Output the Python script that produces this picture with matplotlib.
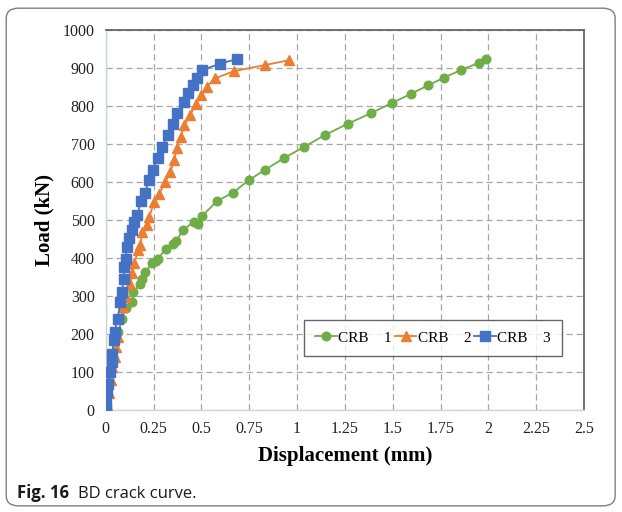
import matplotlib
matplotlib.use("Agg")
import matplotlib.pyplot as plt
from matplotlib.patches import FancyBboxPatch

# CRB 1 (green circles)
crb1_x = [0.0, 0.0, 0.015, 0.031, 0.066, 0.083, 0.104, 0.135, 0.145, 0.180, 0.187,
          0.207, 0.243, 0.261, 0.274, 0.315, 0.353, 0.369, 0.405, 0.461, 0.481,
          0.504, 0.581, 0.664, 0.747, 0.834, 0.934, 1.037, 1.145, 1.266, 1.388,
          1.498, 1.598, 1.685, 1.768, 1.855, 1.950, 1.985]
crb1_y = [0, 31, 101, 132, 206, 239, 269, 285, 311, 333, 344,
          364, 386, 392, 399, 425, 437, 446, 474, 496, 489,
          511, 550, 572, 605, 633, 664, 693, 724, 754, 782,
          809, 833, 855, 875, 895, 914, 925]

# CRB 2 (orange triangles)
crb2_x = [0.0, 0.008, 0.017, 0.025, 0.035, 0.046, 0.056, 0.066, 0.091, 0.104,
          0.129, 0.135, 0.149, 0.170, 0.180, 0.191, 0.216, 0.228, 0.253, 0.280,
          0.311, 0.338, 0.359, 0.371, 0.392, 0.411, 0.440, 0.471, 0.498, 0.527,
          0.571, 0.668, 0.830, 0.958]
crb2_y = [2, 13, 44, 79, 114, 140, 167, 193, 272, 298,
          333, 360, 386, 421, 434, 469, 487, 509, 548, 570,
          601, 627, 658, 690, 719, 750, 776, 805, 829, 851,
          873, 892, 908, 921]

# CRB 3 (blue squares)
crb3_x = [0.0, 0.0, 0.004, 0.010, 0.021, 0.031, 0.035, 0.041, 0.046, 0.062,
          0.077, 0.083, 0.095, 0.097, 0.104, 0.112, 0.124, 0.137, 0.149, 0.164,
          0.185, 0.205, 0.226, 0.245, 0.272, 0.293, 0.326, 0.349, 0.373, 0.407,
          0.429, 0.454, 0.475, 0.504, 0.598, 0.685]
crb3_y = [4, 22, 48, 70, 101, 127, 149, 184, 206, 241,
          285, 311, 344, 377, 399, 430, 452, 474, 496, 513,
          551, 572, 605, 633, 664, 693, 725, 754, 782, 811,
          835, 857, 875, 895, 912, 924]

series_labels = ["CRB    1", "CRB    2", "CRB    3"]
x_ticks = [0, 0.25, 0.5, 0.75, 1, 1.25, 1.5, 1.75, 2, 2.25, 2.5]
x_tick_labels = ["0", "0.25", "0.5", "0.75", "1", "1.25", "1.5", "1.75", "2", "2.25", "2.5"]
y_ticks = list(range(0, 1001, 100))

serif = ["Liberation Serif", "DejaVu Serif"]

fig = plt.figure(figsize=(6.22, 5.12), dpi=100)
fig.patch.set_facecolor("white")

# rounded frame around the whole figure
frame = FancyBboxPatch((0.010, 0.012), 0.979, 0.972,
                       boxstyle="round,pad=0,rounding_size=0.02",
                       transform=fig.transFigure, fill=False,
                       edgecolor="#7f7f7f", linewidth=1.0)
fig.patches.append(frame)

ax = fig.add_axes([0.170, 0.199, 0.769, 0.742])

ax.plot(crb1_x, crb1_y, color="#70AD47", marker="o", markersize=6.2,
        linewidth=1.3, label=series_labels[0], zorder=3)
ax.plot(crb2_x, crb2_y, color="#ED7D31", marker="^", markersize=7,
        linewidth=1.3, label=series_labels[1], zorder=4)
ax.plot(crb3_x, crb3_y, color="#4472C4", marker="s", markersize=6.5,
        linewidth=1.3, label=series_labels[2], zorder=5)

ax.set_xlim(0, 2.5)
ax.set_ylim(0, 1000)
ax.set_xticks(x_ticks)
ax.set_xticklabels(x_tick_labels)
ax.set_yticks(y_ticks)

ax.grid(True, linestyle=(0, (5, 3)), color="#a6a6a6", linewidth=0.9)
ax.set_axisbelow(True)

for side in ("top", "right"):
    ax.spines[side].set_color("#595959")
    ax.spines[side].set_linewidth(1.2)
for side in ("left", "bottom"):
    ax.spines[side].set_color("#d0d4dc")
    ax.spines[side].set_linewidth(1.0)

ax.tick_params(length=0, pad=8, labelsize=11.5, colors="#222222")
for lbl in ax.get_xticklabels() + ax.get_yticklabels():
    lbl.set_family(serif)

ax.set_xlabel("Displacement (mm)", family=serif, fontsize=15,
              fontweight="bold", labelpad=6)
ax.set_ylabel("Load (kN)", family=serif, fontsize=15,
              fontweight="bold", labelpad=6)

leg = ax.legend(loc="lower left", bbox_to_anchor=(0.414, 0.142), ncol=3,
                prop={"family": serif, "size": 11}, frameon=True,
                fancybox=False, edgecolor="#404040", handlelength=1.4,
                handletextpad=0.1, columnspacing=0.2, borderpad=0.75,
                borderaxespad=0)
leg.get_frame().set_linewidth(1.0)

fig.text(0.027, 0.028, "Fig. 16", family=["Open Sans", "DejaVu Sans"],
         fontsize=12, fontweight="bold", color="#1a1a1a")
fig.text(0.125, 0.028, "BD crack curve.", family=["Open Sans", "DejaVu Sans"],
         fontsize=12, color="#1a1a1a")

fig.savefig("out.png", dpi=100)
